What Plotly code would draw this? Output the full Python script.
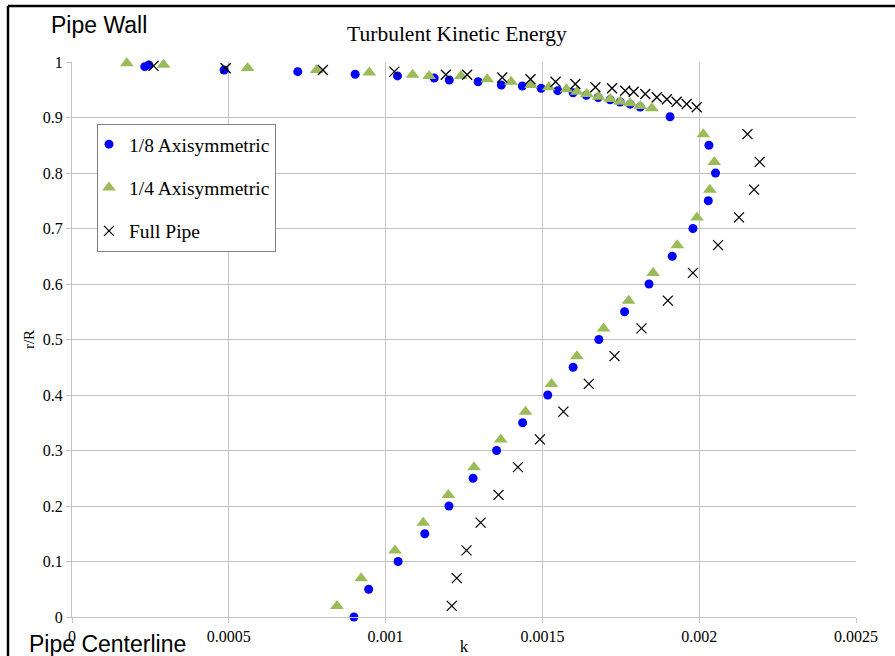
import plotly.graph_objects as go

# ---- data (k, r/R) ----
eighth_k = [0.000232, 0.000245, 0.000485, 0.00072, 0.000903, 0.001038, 0.001155, 0.001203,
            0.001295, 0.001369, 0.001436, 0.001496, 0.001549, 0.001598, 0.001640, 0.001678,
            0.001716, 0.001748, 0.001780, 0.001812, 0.001907,
            0.002031, 0.002052, 0.002029, 0.00198, 0.001914, 0.00184, 0.001762, 0.00168,
            0.001598, 0.001517, 0.001437, 0.001354, 0.001279, 0.001202, 0.001125, 0.00104,
            0.000946, 0.000899]
eighth_r = [0.9916, 0.9946, 0.9856, 0.9826, 0.978, 0.975, 0.971, 0.9676,
            0.9645, 0.9586, 0.9568, 0.9526, 0.9484, 0.9446, 0.940, 0.936,
            0.932, 0.928, 0.924, 0.919, 0.9014,
            0.85, 0.80, 0.75, 0.70, 0.65, 0.60, 0.55, 0.50,
            0.45, 0.40, 0.35, 0.30, 0.25, 0.20, 0.15, 0.10,
            0.05, 0.0]

quarter_k = [0.000175, 0.000292, 0.00056, 0.00078, 0.000948, 0.001086, 0.001139, 0.00124,
             0.001324, 0.0014, 0.001464, 0.00152, 0.001577, 0.00161, 0.001642, 0.001679,
             0.001716, 0.001748, 0.00178, 0.001812, 0.001849,
             0.002013, 0.002048, 0.002034, 0.001993, 0.00193, 0.001853, 0.001775, 0.001695,
             0.00161, 0.001529, 0.001446, 0.001367, 0.001282, 0.0012, 0.00112, 0.00103,
             0.000922, 0.000845]
quarter_r = [0.9976, 0.995, 0.989, 0.9856, 0.981, 0.977, 0.975, 0.975,
             0.9688, 0.9645, 0.9586, 0.9544, 0.951, 0.9466, 0.9423, 0.9375,
             0.9333, 0.9285, 0.9256, 0.9207, 0.9166,
             0.87, 0.82, 0.77, 0.72, 0.67, 0.62, 0.57, 0.52,
             0.47, 0.42, 0.37, 0.32, 0.27, 0.22, 0.17, 0.12,
             0.07, 0.02]

full_k = [0.00026, 0.00049, 0.0008, 0.001028, 0.001192, 0.00126, 0.001372, 0.001462,
          0.001542, 0.001605, 0.001669, 0.001722, 0.001764, 0.001791, 0.001828, 0.001865,
          0.001897, 0.001928, 0.00196, 0.001992,
          0.002154, 0.002193, 0.002175, 0.002127, 0.00206, 0.00198, 0.0019, 0.001816,
          0.00173, 0.001648, 0.001567, 0.001492, 0.001422, 0.00136, 0.001303, 0.001258,
          0.001227, 0.001211]
full_r = [0.993, 0.9886, 0.9856, 0.9826, 0.977, 0.977, 0.972, 0.9688,
          0.9645, 0.9604, 0.9544, 0.9526, 0.9483, 0.9465, 0.9423, 0.9364,
          0.9328, 0.9285, 0.9243, 0.9184,
          0.87, 0.82, 0.77, 0.72, 0.67, 0.62, 0.57, 0.52,
          0.47, 0.42, 0.37, 0.32, 0.27, 0.22, 0.17, 0.12,
          0.07, 0.02]

x_ticks = [0, 0.0005, 0.001, 0.0015, 0.002, 0.0025]
x_tick_text = ["0", "0.0005", "0.001", "0.0015", "0.002", "0.0025"]
y_ticks = [0, 0.1, 0.2, 0.3, 0.4, 0.5, 0.6, 0.7, 0.8, 0.9, 1]
y_tick_text = ["0", "0.1", "0.2", "0.3", "0.4", "0.5", "0.6", "0.7", "0.8", "0.9", "1"]

SERIF = "Liberation Serif, Times New Roman, serif"
SANS = "Liberation Sans, Arial, sans-serif"
GRID = "#c4c4c4"

fig = go.Figure()
fig.add_trace(go.Scatter(x=eighth_k, y=eighth_r, mode="markers", name="1/8 Axisymmetric",
                         legendgroup="a", cliponaxis=False,
                         marker=dict(symbol="circle", size=9, color="#0000ff")))
fig.add_trace(go.Scatter(x=quarter_k, y=quarter_r, mode="markers", name="1/4 Axisymmetric",
                         legendgroup="b", cliponaxis=False,
                         marker=dict(symbol="triangle-up", size=12, color="#9bbb59")))
fig.add_trace(go.Scatter(x=full_k, y=full_r, mode="markers", name="Full Pipe",
                         legendgroup="c", cliponaxis=False,
                         marker=dict(symbol="x-thin", size=10, color="#000000",
                                     line=dict(width=1.3, color="#000000"))))

L, R, T, B = 72, 39, 62, 39
W, H = 895, 656
pw, ph = W - L - R, H - T - B


def px_x(p):
    return (p - L) / pw


def px_y(p):
    return (H - B - p) / ph


fig.update_layout(
    width=W, height=H,
    margin=dict(l=L, r=R, t=T, b=B, autoexpand=False),
    paper_bgcolor="white", plot_bgcolor="white",
    font=dict(family=SERIF, size=16, color="#000000"),
    title=dict(text="Turbulent Kinetic Energy", x=px_x(457), xanchor="center",
               y=1 - 33 / H, yanchor="middle", xref="paper",
               font=dict(family=SERIF, size=21.5, color="#000000")),
    xaxis=dict(range=[0, 0.0025], tickvals=x_ticks, ticktext=x_tick_text,
               showgrid=True, gridcolor=GRID, gridwidth=1,
               showline=True, linecolor=GRID, linewidth=1,
               ticks="outside", ticklen=5, tickcolor=GRID,
               zeroline=False, tickfont=dict(family=SERIF, size=16),
               title=dict(text="k", font=dict(family=SERIF, size=17), standoff=8)),
    yaxis=dict(range=[0, 1], tickvals=y_ticks, ticktext=y_tick_text,
               showgrid=True, gridcolor=GRID, gridwidth=1,
               showline=True, linecolor=GRID, linewidth=1,
               ticks="outside", ticklen=5, tickcolor=GRID,
               zeroline=False, tickfont=dict(family=SERIF, size=16),
               title=dict(text="r/R", font=dict(family=SERIF, size=15), standoff=4)),
    legend=dict(x=px_x(97), y=px_y(124), xanchor="left", yanchor="top",
                bgcolor="white", bordercolor="#808080", borderwidth=1,
                font=dict(family=SERIF, size=19.5, color="#000000"),
                tracegroupgap=15, indentation=-9, entrywidth=155),
    showlegend=True,
)

fig.add_annotation(text="Pipe Wall", x=px_x(49), y=px_y(25), xref="paper", yref="paper",
                   xanchor="left", yanchor="middle", showarrow=False,
                   font=dict(family=SANS, size=23, color="#000000"))
fig.add_annotation(text="Pipe Centerline", x=px_x(27), y=px_y(644), xref="paper", yref="paper",
                   xanchor="left", yanchor="middle", showarrow=False,
                   font=dict(family=SANS, size=23, color="#000000"))

# outer frame (top and left edges)
fig.add_shape(type="line", xref="paper", yref="paper", x0=px_x(8), x1=px_x(W + 5),
              y0=px_y(6), y1=px_y(6), line=dict(color="#000000", width=2.5))
fig.add_shape(type="line", xref="paper", yref="paper", x0=px_x(8), x1=px_x(8),
              y0=px_y(6), y1=px_y(H + 5), line=dict(color="#000000", width=2.5))

fig.write_html("out.html")
